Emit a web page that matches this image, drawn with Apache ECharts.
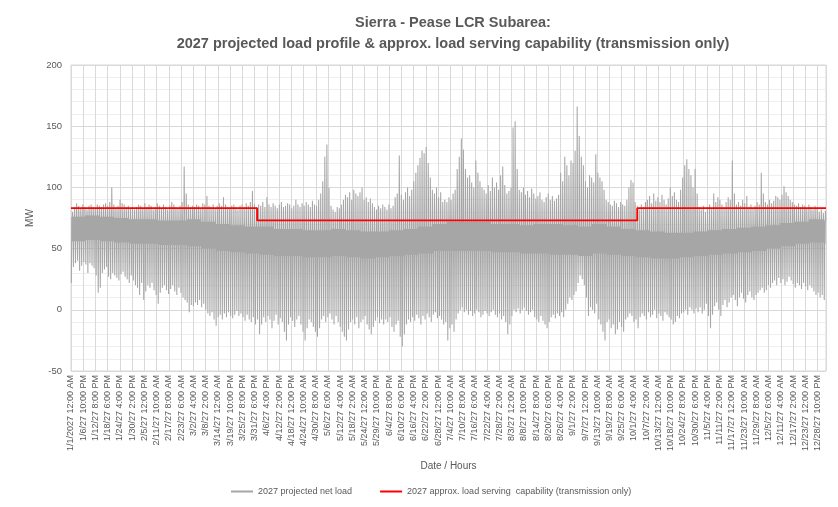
<!DOCTYPE html>
<html><head><meta charset="utf-8">
<script src="https://cdn.jsdelivr.net/npm/echarts@6/dist/echarts.min.js"></script>
<style>html,body{margin:0;padding:0;background:#fff}#c{width:838px;height:507px}</style>
</head><body><div id="c"></div>
<script>
// X tick labels (one every 142 hours)
const tickLabels = [
"1/1/2027 12:00 AM","1/6/27 10:00 PM","1/12/27 8:00 PM","1/18/27 6:00 PM","1/24/27 4:00 PM","1/30/27 2:00 PM",
"2/5/27 12:00 PM","2/11/27 10:00 AM","2/17/27 8:00 AM","2/23/27 6:00 AM","3/2/27 4:00 AM","3/8/27 2:00 AM",
"3/14/27 12:00 AM","3/19/27 10:00 PM","3/25/27 8:00 PM","3/31/27 6:00 PM","4/6/27 4:00 PM","4/12/27 2:00 PM",
"4/18/27 12:00 PM","4/24/27 10:00 AM","4/30/27 8:00 AM","5/6/27 6:00 AM","5/12/27 4:00 AM","5/18/27 2:00 AM",
"5/24/27 12:00 AM","5/29/27 10:00 PM","6/4/27 8:00 PM","6/10/27 6:00 PM","6/16/27 4:00 PM","6/22/27 2:00 PM",
"6/28/27 12:00 PM","7/4/27 10:00 AM","7/10/27 8:00 AM","7/16/27 6:00 AM","7/22/27 4:00 AM","7/28/27 2:00 AM",
"8/3/27 12:00 AM","8/8/27 10:00 PM","8/14/27 8:00 PM","8/20/27 6:00 PM","8/26/27 4:00 PM","9/1/27 2:00 PM",
"9/7/27 12:00 PM","9/13/27 10:00 AM","9/19/27 8:00 AM","9/25/27 6:00 AM","10/1/27 4:00 AM","10/7/27 2:00 AM",
"10/13/27 12:00 AM","10/18/27 10:00 PM","10/24/27 8:00 PM","10/30/27 6:00 PM","11/5/27 4:00 PM","11/11/27 2:00 PM",
"11/17/27 12:00 PM","11/23/27 10:00 AM","11/29/27 8:00 AM","12/5/27 6:00 AM","12/11/27 4:00 AM","12/17/27 2:00 AM",
"12/23/27 12:00 AM","12/28/27 10:00 PM"
];
const tickStepHours = 142;
const yearHours = 8760;

// Daily peak of projected net load (MW), Jan..Dec
const dailyPeak = [
80,84,87,85,83,86,84,82,85,86,84,83,86,85,84,86,87,85,88,100,86,84,85,90,87,86,84,85,83,84,82,
84,86,85,83,87,84,86,85,82,84,87,85,83,86,84,82,85,88,86,84,83,85,88,117,95,86,84,85,
84,86,85,83,87,86,93,85,84,86,83,85,87,85,92,86,84,83,85,86,84,82,85,86,84,87,85,88,97,86,84,
86,85,88,84,92,86,84,87,85,83,86,88,84,85,87,86,83,85,90,86,84,87,85,88,86,84,89,86,85,90,
95,105,125,135,100,85,82,80,84,83,86,90,94,92,96,90,98,95,93,96,100,90,92,88,91,87,84,82,85,83,86,
84,82,86,83,85,92,95,126,94,90,96,100,93,98,105,112,118,124,130,128,133,120,108,98,95,100,92,96,88,90,
88,92,90,95,98,115,125,140,131,115,108,110,104,100,122,112,105,100,98,95,102,97,108,100,104,98,110,117,102,95,97,
100,149,154,115,98,96,100,94,97,92,99,95,91,93,96,90,88,92,95,90,93,89,91,94,112,105,125,118,110,122,120,
130,166,142,125,118,105,100,110,108,104,127,112,108,105,98,90,88,86,85,89,87,84,88,86,85,90,100,106,104,88,
85,82,86,84,88,90,93,87,95,89,92,88,94,90,86,91,100,93,96,90,88,98,108,118,123,115,110,100,115,95,84,
82,85,80,84,86,83,95,88,92,90,86,84,88,92,90,122,95,86,88,85,90,87,93,84,86,83,85,88,86,112,
95,88,86,90,87,89,93,92,90,94,101,96,93,90,88,86,85,87,84,86,85,83,86,84,82,85,83,80,82,79,81
];
// Daily minimum of projected net load (MW), Jan..Dec
const dailyLow = [
22,35,38,40,32,36,39,37,30,38,36,34,28,14,18,30,33,35,27,25,30,28,26,24,29,31,27,25,22,28,24,
20,18,12,22,8,15,20,18,22,16,12,5,14,18,20,16,13,17,20,15,12,18,14,10,8,6,-2,4,
3,6,4,8,2,5,0,-3,-5,-2,-8,-13,-6,-4,-8,-3,-6,-2,-5,-7,-4,-1,-5,-3,-6,-9,-4,-8,-10,-6,-12,
-8,-20,-12,-6,-10,-5,-8,-15,-9,-4,-12,-7,-10,-18,-25,-12,-6,-9,-14,-8,-5,-12,-18,-25,-15,-8,-10,-14,-18,-22,
-15,-8,-5,-10,-6,-3,-8,-12,-5,-10,-14,-18,-22,-25,-16,-10,-8,-12,-6,-15,-10,-8,-5,-12,-16,-20,-14,-9,-6,-11,-8,
-12,-8,-10,-6,-14,-18,-12,-9,-22,-30,-20,-12,-8,-10,-6,-9,-4,-7,-12,-5,-8,-3,-6,-10,-4,-2,-7,-5,-8,-12,
-10,-25,-15,-12,-18,-8,-3,0,2,-2,0,-4,-1,-5,-3,0,-2,-6,-4,-1,-3,-5,-2,0,-4,-6,-3,-8,-5,-10,-20,
-12,-5,0,-2,1,-3,0,2,-1,-4,-2,0,-6,-8,-10,-5,-9,-12,-15,-10,-6,-4,-7,-3,-5,-2,-6,0,5,10,8,
12,15,22,28,25,20,10,-5,2,0,-3,5,-8,-12,-18,-25,-10,-8,-15,-12,-20,-16,-10,-14,-18,-8,-6,-3,-5,-10,
-8,-15,-6,-3,-5,-8,-2,-6,-4,0,-7,-3,-5,-9,-2,-4,-6,-8,-12,-10,-5,-7,-3,-2,0,-4,2,0,-3,1,-2,
2,-3,0,5,-5,-15,-4,3,6,0,-5,4,8,2,6,10,12,8,3,10,14,9,6,12,15,10,8,12,14,16,
18,14,16,20,18,22,24,20,26,22,25,20,23,27,24,21,18,22,20,17,22,19,16,20,18,15,12,14,10,12,8
];
// Weekly band where most daytime hours sit (upper / lower edge, MW), weeks 1..53
const weeklyCoreTop = [
76,77,76,75,74, 74,73,73,74, 72,70,69,68,68, 66,66,65,65, 66,65,64,64,65, 66,68,70,72,
72,72,70,70,69, 70,70,69,68, 70,68,66,65, 64,63,63,64,65, 66,67,68,69, 71,72,74,73
];
const weeklyCoreBottom = [
56,57,56,55,54, 54,53,53,52, 50,48,47,46,45, 44,44,43,43, 44,43,42,43,44, 45,46,48,48,
48,48,47,47,46, 46,45,45,44, 46,45,44,43, 42,42,43,44,45, 46,47,48,50, 52,54,55,54
];
// Hour of day at which each daily level occurs
const lowHourOfDay = 4, morningHour = 9, afternoonHour = 13, peakHourOfDay = 17, eveningHour = 21;

// Load serving capability (transmission only): change points (hour) and levels (MW)
const capabilityBreakHours = [0, 2160, 6570, 8760];
const capabilityMW = [83, 73, 83];

const loadData = [];
for (let d = 0; d < dailyPeak.length; d++) {
  const w = Math.floor(d / 7);
  const base = d * 24;
  loadData.push([base + lowHourOfDay, dailyLow[d]]);
  loadData.push([base + morningHour, weeklyCoreTop[w]]);
  loadData.push([base + afternoonHour, weeklyCoreBottom[w]]);
  loadData.push([base + peakHourOfDay, dailyPeak[d]]);
  loadData.push([base + eveningHour, weeklyCoreTop[w]]);
}
const capData = capabilityBreakHours.map((h, i) => [h, capabilityMW[Math.min(i, capabilityMW.length - 1)]]);

const FONT = 'Liberation Sans';
const LOAD_NAME = '2027 projected net load';
const CAP_NAME = '2027 approx. load serving  capability (transmission only)';
const chart = echarts.init(document.getElementById('c'), null, {renderer: 'canvas'});
chart.setOption({
  animation: false,
  backgroundColor: '#fff',
  title: {
    text: 'Sierra - Pease LCR Subarea:\n2027 projected load profile & approx. load serving capability (transmission only)',
    left: 448, top: 7, textAlign: 'center',
    textStyle: {fontFamily: FONT, fontSize: 14.5, fontWeight: 'bold', color: '#595959', lineHeight: 21}
  },
  legend: {
    bottom: 6, left: 226, itemWidth: 22, itemHeight: 2, itemGap: 28,
    textStyle: {fontFamily: FONT, fontSize: 9, color: '#595959'},
    data: [{name: LOAD_NAME, icon: 'rect'}, {name: CAP_NAME, icon: 'rect'}]
  },
  grid: {left: 71, right: 12, top: 65, height: 306, show: true, borderColor: '#d9d9d9', borderWidth: 1},
  xAxis: {
    type: 'value', min: 0, max: yearHours, interval: tickStepHours,
    name: 'Date / Hours', nameLocation: 'middle', nameGap: 90,
    nameTextStyle: {fontFamily: FONT, fontSize: 10, color: '#595959'},
    axisLine: {show: true, lineStyle: {color: '#d9d9d9'}},
    axisTick: {show: true, length: 4, lineStyle: {color: '#d9d9d9'}},
    splitLine: {show: true, lineStyle: {color: '#d9d9d9', width: 1}},
    axisLabel: {
      rotate: 90, fontFamily: FONT, fontSize: 9, color: '#595959', margin: 4,
      showMaxLabel: false,
      formatter: v => { const i = Math.round(v / tickStepHours); return (Math.abs(v - i * tickStepHours) < 1e-6 && tickLabels[i]) ? tickLabels[i] : ''; }
    }
  },
  yAxis: {
    type: 'value', min: -50, max: 200, interval: 50,
    name: 'MW', nameLocation: 'middle', nameGap: 27, nameRotate: 90,
    nameTextStyle: {fontFamily: FONT, fontSize: 10, color: '#595959'},
    axisLine: {show: false}, axisTick: {show: false},
    axisLabel: {fontFamily: FONT, fontSize: 9.5, color: '#595959', margin: 9},
    splitLine: {show: true, lineStyle: {color: '#d9d9d9'}},
    minorTick: {show: false, splitNumber: 5},
    minorSplitLine: {show: true, lineStyle: {color: '#eeeeee'}}
  },
  series: [
    {
      name: LOAD_NAME, type: 'line', data: loadData,
      showSymbol: false, symbol: 'none',
      lineStyle: {color: '#a6a6a6', width: 1.05},
      itemStyle: {color: '#a6a6a6'}
    },
    {
      name: CAP_NAME, type: 'line', data: capData,
      step: 'end', showSymbol: false, symbol: 'none',
      lineStyle: {color: '#ff0000', width: 1.8},
      itemStyle: {color: '#ff0000'}
    }
  ]
});
</script>
</body></html>
